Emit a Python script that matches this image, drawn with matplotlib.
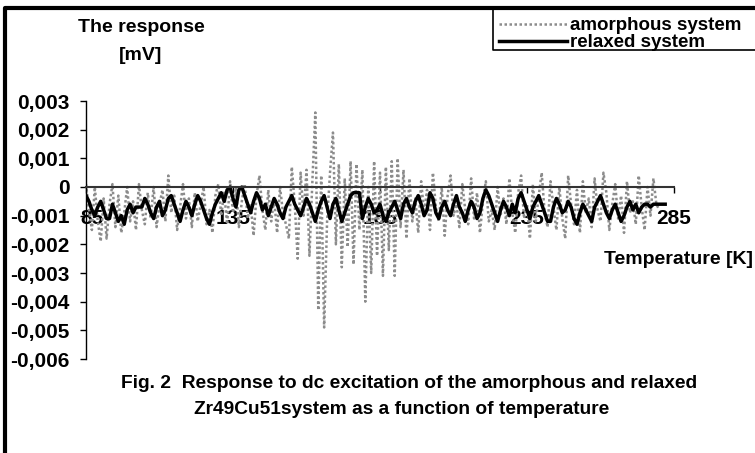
import numpy as np
import matplotlib
matplotlib.use("Agg")
import matplotlib.pyplot as plt
import matplotlib.transforms as mtransforms
from matplotlib.lines import Line2D

plt.rcParams['font.family'] = ['Liberation Sans', 'DejaVu Sans']
plt.rcParams['font.weight'] = 'bold'

# response of the amorphous system, read in units of 1e-4 mV, one reading per K from 85 K
amorphous_e4 = [
    1, -8, -15, 0, -12, -19, -4, -18, -6, 1,
    -14, -3, -16, -9, 0, -12, -5, -15, 1, -8,
    -13, -2, -11, 0, -14, -6, -1, -12, 4, -9,
    -3, -15, -7, 1, -11, -4, -14, -2, -12, -6,
    0, -13, -8, -16, -3, 1, -10, -2, -13, 2,
    -9, 0, -14, -5, 1, -11, -6, -17, -3, 4,
    -8, -15, -1, -12, -4, -16, 0, -9, -13, -18,
    7, -6, -25, 5, -10, 6, -24, 2, 26, -43,
    4, -49, -12, 5, 19, -20, 8, -28, 3, -21,
    9, -27, 8, -15, 6, -40, 0, -30, 9, -24,
    5, -31, 7, -22, 9, -31, 10, -14, 6, -18,
    3, -12, -4, -16, 2, -9, -1, -15, 5, -7,
    -12, 0, -17, -3, 4, -10, -6, -14, 1, -8,
    -13, 3, -11, -2, -16, -5, 2, -12, -8, -15,
    0, -10, -4, -13, 3, -9, -16, -2, 4, -11,
    -6, -18, 1, -12, -3, 5, -9, -14, 2, -7,
    -15, 0, -11, -18, 4, -6, -13, -1, -16, 2,
    -9, -4, -14, 3, -8, -12, 5, -2, -15, -6,
    1, -11, -3, -16, 2, -9, -5, -13, 4, -7,
    -15, 0, -10, 3, -6, -8,
]

# response of the relaxed system, same units, one reading per K from 85 K
relaxed_e4 = [
    -3, -5, -8, -10, -7, -5, -8, -11, -11, -6,
    -9, -12, -10, -13, -8, -6, -9, -7, -7, -7,
    -4, -6, -9, -11, -7, -5, -10, -8, -4, -3,
    -6, -9, -12, -8, -5, -7, -10, -6, -3, -5,
    -8, -11, -13, -9, -6, -4, -2, -5, -1, 0,
    -4, -7, -1, 0, -3, -6, -9, -5, -2, -4,
    -8, -6, -10, -7, -4, -6, -9, -11, -7, -5,
    -3, -6, -8, -10, -7, -4, -6, -9, -12, -8,
    -5, -3, -7, -11, -6, -4, -8, -12, -9, -6,
    -3, -2, -2, -2, -11, -7, -4, -6, -9, -8,
    -6, -10, -12, -9, -7, -5, -8, -11, -6, -4,
    -7, -9, -5, -3, -6, -10, -8, -2, -4, -9,
    -11, -7, -5, -8, -10, -6, -3, -7, -9, -12,
    -8, -5, -7, -11, -9, -4, -1, -3, -6, -9,
    -12, -8, -5, -7, -10, -6, -9, -4, -2, -5,
    -8, -11, -7, -5, -3, -6, -9, -12, -12, -7,
    -4, -6, -9, -8, -5, -7, -11, -13, -9, -6,
    -8, -10, -12, -7, -5, -3, -6, -9, -11, -8,
    -6, -9, -12, -10, -7, -5, -8, -6, -9, -7,
    -6, -6, -7, -6, -6, -6, -6, -6,
]

temps_a = np.arange(85, 85 + len(amorphous_e4))
temps_r = np.arange(85, 85 + len(relaxed_e4))
amorphous = np.array(amorphous_e4) * 1e-4
relaxed = np.array(relaxed_e4) * 1e-4

xticks = [85, 135, 185, 235, 285]
yticks = [0.003, 0.002, 0.001, 0, -0.001, -0.002, -0.003, -0.004, -0.005, -0.006]
ylabels = ['0,003', '0,002', '0,001', '0', '-0,001', '-0,002', '-0,003', '-0,004', '-0,005', '-0,006']

W, H = 755, 453
fig = plt.figure(figsize=(W / 100, H / 100), dpi=100)
ax = fig.add_axes([86 / W, 1 - 359 / H, (674 - 86) / W, (359 - 101) / H])

ax.plot(temps_a, amorphous, color='#8c8c8c', lw=1.8, ls=(0, (1, 1)), label='amorphous system')
ax.plot(temps_r, relaxed, color='black', lw=2.5, label='relaxed system')

ax.set_xlim(85, 285)
ax.set_ylim(-0.006, 0.003)
ax.set_yticks(yticks)
ax.set_yticklabels(ylabels)
ax.set_xticks(xticks)
ax.set_xticklabels([str(t) for t in xticks])

for s in ['top', 'right']:
    ax.spines[s].set_visible(False)
ax.spines['bottom'].set_position(('data', 0))
ax.spines['bottom'].set_color('#333333')
ax.spines['bottom'].set_linewidth(1.5)
ax.spines['left'].set_linewidth(1.0)
ax.tick_params(axis='y', direction='out', length=4, width=1, pad=8, labelsize=15)
ax.tick_params(axis='x', direction='out', length=4, width=1, pad=12, labelsize=15)
for lab in ax.get_xticklabels() + ax.get_yticklabels():
    lab.set_fontweight('bold')
# the first category label sits just right of the value axis
first = ax.get_xticklabels()[0]
first.set_transform(first.get_transform() + mtransforms.ScaledTranslation(6 / 100, 0, fig.dpi_scale_trans))
ax.patch.set_visible(False)

fig.text(141 / W, 1 - 27 / H, 'The response', ha='center', va='center', fontsize=14, fontweight='bold')
fig.text(141 / W, 1 - 55 / H, '[mV]', ha='center', va='center', fontsize=14, fontweight='bold')
fig.text(753 / W, 1 - 260 / H, 'Temperature [K]', ha='right', va='center', fontsize=14, fontweight='bold')
fig.text(409 / W, 1 - 383 / H, 'Fig. 2  Response to dc excitation of the amorphous and relaxed',
         ha='center', va='center', fontsize=13.8, fontweight='bold')
fig.text(402 / W, 1 - 410 / H, 'Zr49Cu51system as a function of temperature',
         ha='center', va='center', fontsize=13.8, fontweight='bold')

leg = fig.legend(loc='upper left', bbox_to_anchor=(499 / W, 1 - 17 / H), frameon=False,
                 fontsize=13.5, handlelength=3.6, handletextpad=0.2, labelspacing=0.0,
                 borderpad=0, borderaxespad=0)
for txt in leg.get_texts():
    txt.set_fontweight('bold')

# outer frame (top and left) and legend box edges
fig.add_artist(Line2D([5 / W, 5 / W, 1], [0, 1 - 8 / H, 1 - 8 / H], color='black', lw=3,
                      transform=fig.transFigure))
fig.add_artist(Line2D([493 / W, 493 / W, 1], [1 - 9 / H, 1 - 50 / H, 1 - 50 / H], color='black', lw=1.2,
                      transform=fig.transFigure))

fig.savefig('out.png', dpi=100)
